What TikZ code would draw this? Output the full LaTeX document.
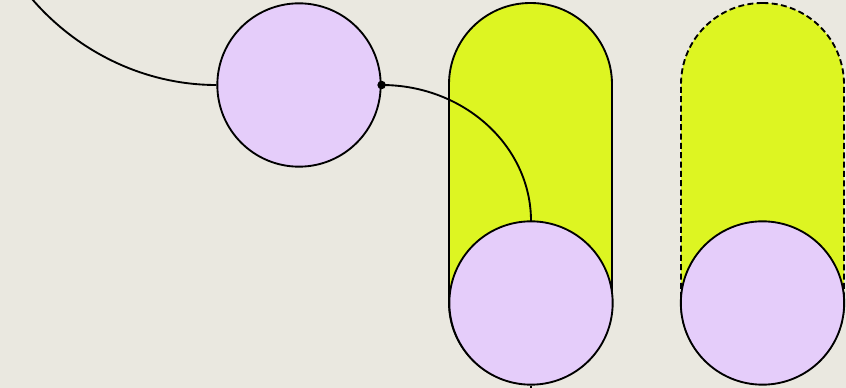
\documentclass[tikz,border=0pt]{standalone}
\usetikzlibrary{positioning}
\definecolor{paper}{HTML}{EAE8E0}
\definecolor{lime}{HTML}{DDF522}
\definecolor{lilac}{HTML}{E5CDFA}

\begin{document}
\begin{tikzpicture}[x=0.75pt, y=-0.75pt,
        blob/.style={circle, draw, fill=lilac, minimum size=122.5pt, inner sep=0pt, line width=1.4pt},
        pill/.style={rectangle, draw, fill=lime, minimum width=122.25pt, minimum height=285.75pt, rounded corners=61pt, line width=1.4pt},
        wire/.style={line width=1.4pt}]
      \fill[paper] (0,0) rectangle (846,388);
      \clip (0,0) rectangle (846,388);
      \node[pill] (pill1) at (530.5,193.5) {};
      \node[pill, dash pattern=on 4.5pt off 2.5pt] (pill2) at (762.5,193.5) {};
      \node[blob] (blob1) at (299,85) {};
      \coordinate (tail) at (-25,-150);
      \draw[wire] (tail) .. controls (-25,-25) and (85,85) .. (blob1.west);
      \draw[wire] (blob1.east) .. controls (464,85) and (531,146) .. (531,221) coordinate (hook);
      \fill (blob1.east) circle[radius=3.2pt];
      \node[blob] (blob2) at (531,303) {};
      \node[blob] (blob3) at (762.5,303) {};
      \coordinate (drop) at (531,400);
      \draw[wire] (blob2.south) -- (drop);
      \end{tikzpicture}
\end{document}
